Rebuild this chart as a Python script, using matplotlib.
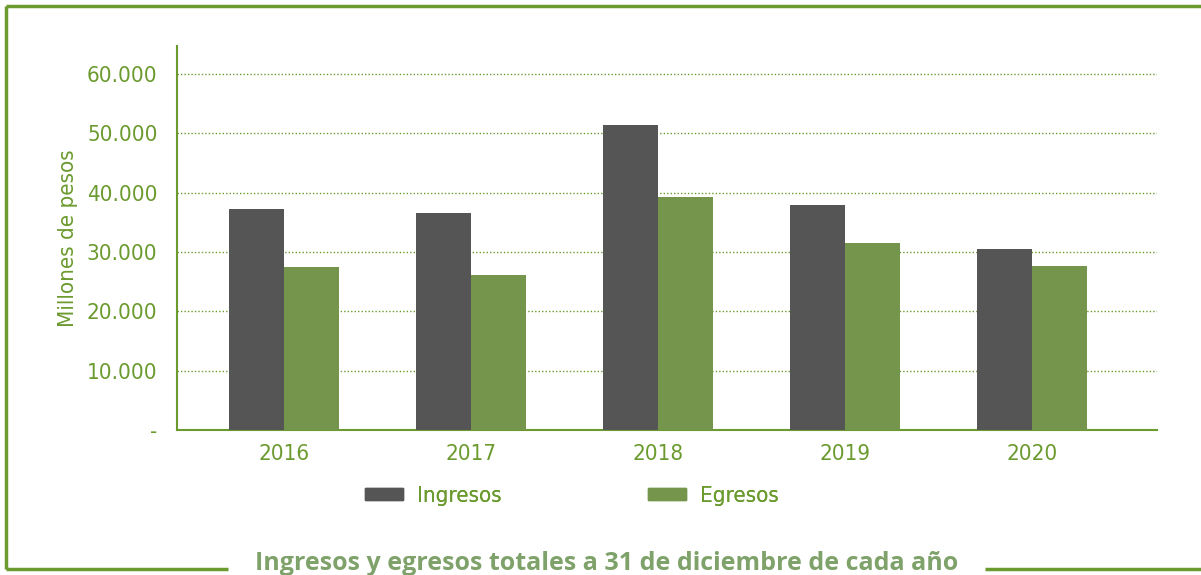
import numpy as np
import matplotlib.pyplot as plt
from matplotlib import font_manager
from matplotlib.lines import Line2D
from matplotlib.patches import Rectangle

years = ["2016", "2017", "2018", "2019", "2020"]
ingresos = [37200, 36500, 51400, 37900, 30500]
egresos = [27400, 26100, 39200, 31500, 27600]
yticks = [0, 10000, 20000, 30000, 40000, 50000, 60000]
ytick_labels = ["-", "10.000", "20.000", "30.000", "40.000", "50.000", "60.000"]

DARK = "#555555"
GREEN = "#74954b"
TEXT_GREEN = "#6b9a2e"
FRAME_GREEN = "#6b9a2e"
TITLE_GREEN = "#7fa26a"

fonts = font_manager.fontManager.ttflist
names = {f.name for f in fonts}
has_dv_cond = any(f.name == "DejaVu Sans" and f.stretch == "condensed" for f in fonts)
if "Liberation Sans Narrow" in names:
    narrow = dict(family="Liberation Sans Narrow")
elif has_dv_cond:
    narrow = dict(family="DejaVu Sans", stretch="condensed")
else:
    narrow = dict(family="Roboto")

fig = plt.figure(figsize=(12.01, 5.75), dpi=100)
ax = fig.add_axes([177 / 1201, 1 - 430 / 575, 980 / 1201, 384 / 575])

x = np.arange(len(years))
w = 0.294
ax.bar(x - w / 2, ingresos, w, color=DARK, zorder=3)
ax.bar(x + w / 2, egresos, w, color=GREEN, zorder=3)

ax.set_xlim(-0.572, 4.668)
ax.set_ylim(0, 64700)
ax.set_yticks(yticks)
ax.set_yticklabels(ytick_labels)
ax.set_xticks(x)
ax.set_xticklabels(years)
ax.tick_params(length=0, labelsize=16, labelcolor=TEXT_GREEN, pad=10)
ax.tick_params(axis="y", pad=14)
for lab in ax.get_xticklabels() + ax.get_yticklabels():
    lab.set_fontfamily(narrow["family"])
    lab.set_fontstretch(narrow.get("stretch", "normal"))

ax.yaxis.grid(True, linestyle=(0, (1, 1.5)), color=TEXT_GREEN, linewidth=1.0, zorder=0)
for s in ("top", "right"):
    ax.spines[s].set_visible(False)
for s in ("left", "bottom"):
    ax.spines[s].set_color(FRAME_GREEN)
    ax.spines[s].set_linewidth(1.5)

ax.set_ylabel("Millones de pesos", fontsize=16, color=TEXT_GREEN, **narrow)
ax.yaxis.set_label_coords(-0.101, 0.5)

# legend entries below the axis, one legend per series
leg_prop = dict(size=16, **narrow)
for label, color, x0 in (("Ingresos", DARK, 365), ("Egresos", GREEN, 648)):
    leg = fig.legend([Rectangle((0, 0), 1, 1, color=color)], [label], loc="center left",
                     bbox_to_anchor=(x0 / 1201, 1 - 496 / 575), frameon=False, borderpad=0,
                     borderaxespad=0, handlelength=1.71, handleheight=0.45, handletextpad=0.63,
                     prop=leg_prop)
    for t in leg.get_texts():
        t.set_color(TEXT_GREEN)
    fig.add_artist(leg)

# outer frame with the caption cut into its bottom edge
lw = 2.5
frame = dict(color=FRAME_GREEN, lw=lw, transform=fig.transFigure, solid_capstyle="butt")
fig.add_artist(Line2D([6 / 1201, 6 / 1201], [1 - 569 / 575, 1 - 6 / 575], **frame))
fig.add_artist(Line2D([6 / 1201, 1.0], [1 - 6 / 575, 1 - 6 / 575], **frame))
fig.add_artist(Line2D([6 / 1201, 228 / 1201], [1 - 569 / 575, 1 - 569 / 575], **frame))
fig.add_artist(Line2D([985 / 1201, 1.0], [1 - 569 / 575, 1 - 569 / 575], **frame))
fig.text(606.5 / 1201, 1 - 563 / 575, "Ingresos y egresos totales a 31 de diciembre de cada año",
         ha="center", va="center", fontsize=18, fontweight="bold", family="Open Sans",
         color=TITLE_GREEN)

fig.savefig("out.png", dpi=100)
